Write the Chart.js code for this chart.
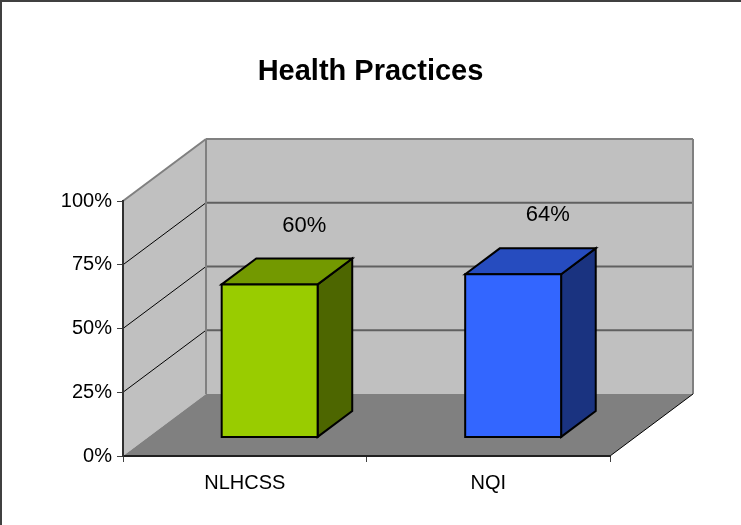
<!DOCTYPE html>
<html>
<head>
<meta charset="utf-8">
<title>Health Practices</title>
<script src="https://cdn.jsdelivr.net/npm/chart.js@4/dist/chart.umd.min.js"></script>
<style>
  html, body { margin: 0; padding: 0; background: #ffffff; }
  #wrap { width: 741px; height: 525px; position: relative; }
</style>
</head>
<body>
<div id="wrap"><canvas id="chart" width="741" height="525"></canvas></div>
<script>
// Data
const categories = ['NLHCSS', 'NQI'];
const practiceShares = [60, 64];
const yTickValues = [0, 25, 50, 75, 100];

// Bar shading: front, top and side faces
const frontColors = ['#99CC00', '#3366FF'];
const topColors = ['#739900', '#264CBF'];
const sideColors = ['#4D6600', '#1A3380'];

const FONT = "'Liberation Sans', Arial, Helvetica, sans-serif";

// Oblique projection: offset from the front plane to the back wall
const depth = { x: 83, y: -62 };
const barFrontOffset = 0.30;  // share of the depth in front of the bars
const barDepthShare = 0.417;  // share of the depth the bars occupy

function poly(ctx, pts, fill, stroke, lw) {
  ctx.beginPath();
  ctx.moveTo(pts[0][0], pts[0][1]);
  for (let i = 1; i < pts.length; i++) ctx.lineTo(pts[i][0], pts[i][1]);
  ctx.closePath();
  if (fill) { ctx.fillStyle = fill; ctx.fill(); }
  if (stroke) { ctx.strokeStyle = stroke; ctx.lineWidth = lw; ctx.stroke(); }
}

function seg(ctx, x1, y1, x2, y2, color, lw) {
  ctx.beginPath();
  ctx.moveTo(x1, y1);
  ctx.lineTo(x2, y2);
  ctx.strokeStyle = color;
  ctx.lineWidth = lw;
  ctx.stroke();
}

// Back wall, side wall, floor and frame, drawn beneath the axes
const wallsPlugin = {
  id: 'walls3d',
  beforeDraw(chart) {
    const { ctx, chartArea: a } = chart;
    const yScale = chart.scales.y;
    const bl = a.left + depth.x, br = a.right + depth.x;
    const bt = a.top + depth.y, bb = a.bottom + depth.y;
    ctx.save();
    ctx.fillStyle = '#ffffff';
    ctx.fillRect(0, 0, chart.width, chart.height);

    // back wall
    ctx.fillStyle = '#C0C0C0';
    ctx.fillRect(bl, bt, br - bl, bb - bt);
    // side wall
    poly(ctx, [[a.left, a.top], [bl, bt], [bl, bb], [a.left, a.bottom]], '#C0C0C0');
    // floor
    poly(ctx, [[a.left, a.bottom], [a.right, a.bottom], [br, bb], [bl, bb]], '#808080');

    const maxV = yTickValues[yTickValues.length - 1];
    yTickValues.forEach(v => {
      if (v === 0) return;
      const py = yScale.getPixelForValue(v);
      if (v === maxV) {
        seg(ctx, bl, py + depth.y, br, py + depth.y, '#808080', 2);
        seg(ctx, a.left, py, bl, py + depth.y, '#808080', 2);
      } else {
        seg(ctx, bl, py + depth.y, br, py + depth.y, '#606060', 2);
        seg(ctx, a.left, py, bl, py + depth.y, '#000000', 1);
      }
    });
    // wall edges
    seg(ctx, bl, bt, bl, bb, '#808080', 2);
    seg(ctx, br, bt, br, bb, '#808080', 2);
    // floor right edge
    seg(ctx, a.right, a.bottom, br, bb, '#000000', 1);

    // chart frame
    seg(ctx, 0, 1, chart.width, 1, '#404040', 2);
    seg(ctx, 1, 0, 1, chart.height, '#404040', 2);
    ctx.restore();
  }
};

// Extruded bars and value labels, placed from the bar elements
const bars3dPlugin = {
  id: 'bars3d',
  afterDatasetsDraw(chart) {
    const { ctx } = chart;
    const meta = chart.getDatasetMeta(0);
    const values = chart.data.datasets[0].data;
    const ox = depth.x * barFrontOffset, oy = depth.y * barFrontOffset;
    const dx = depth.x * barDepthShare, dy = depth.y * barDepthShare;
    ctx.save();
    ctx.lineJoin = 'miter';
    meta.data.forEach((bar, i) => {
      const p = bar.getProps(['x', 'y', 'base', 'width'], true);
      const l = p.x - p.width / 2 + ox, r = p.x + p.width / 2 + ox;
      const t = p.y + oy, b = p.base + oy;
      poly(ctx, [[r, t], [r + dx, t + dy], [r + dx, b + dy], [r, b]], sideColors[i], '#000', 2);
      poly(ctx, [[l, t], [l + dx, t + dy], [r + dx, t + dy], [r, t]], topColors[i], '#000', 2);
      poly(ctx, [[l, t], [r, t], [r, b], [l, b]], frontColors[i], '#000', 2);

      ctx.fillStyle = '#000';
      ctx.font = '22px ' + FONT;
      ctx.textAlign = 'center';
      ctx.textBaseline = 'middle';
      ctx.fillText(values[i] + '%', p.x + ox + dx, t + dy - 33);
    });
    ctx.restore();
  }
};

new Chart(document.getElementById('chart'), {
  type: 'bar',
  data: {
    labels: categories,
    datasets: [{
      data: practiceShares,
      backgroundColor: 'rgba(0,0,0,0)',
      borderWidth: 0,
      barPercentage: 0.394,
      categoryPercentage: 1.0,
      yAxisID: 'y'
    }]
  },
  options: {
    responsive: false,
    animation: false,
    devicePixelRatio: 1,
    events: [],
    layout: { padding: 0 },
    plugins: {
      legend: { display: false },
      tooltip: { enabled: false },
      title: {
        display: true,
        text: 'Health Practices',
        color: '#000',
        font: { family: FONT, size: 29, weight: 'bold' },
        padding: { top: 55, bottom: 111.2 }
      }
    },
    scales: {
      x: {
        offset: true,
        grid: { display: true, drawOnChartArea: false, drawTicks: true, tickLength: 6, color: '#404040', offset: true },
        border: { display: true, color: '#202020', width: 2 },
        ticks: { color: '#000', font: { family: FONT, size: 20 }, padding: 9, maxRotation: 0 },
        afterFit(scale) { scale.height = 69; }
      },
      y: {
        min: yTickValues[0],
        max: yTickValues[yTickValues.length - 1],
        afterBuildTicks(scale) { scale.ticks = yTickValues.map(v => ({ value: v })); },
        grid: { display: true, drawOnChartArea: false, drawTicks: true, tickLength: 6, color: '#404040' },
        border: { display: true, color: '#303030', width: 2 },
        ticks: { color: '#000', font: { family: FONT, size: 20 }, padding: 5, callback: v => v + '%' },
        afterFit(scale) { scale.width = 123; }
      },
      // blank right-hand axis that reserves room for the receding depth
      depthRoom: {
        type: 'linear',
        position: 'right',
        min: 0,
        max: 100,
        grid: { display: false, drawTicks: false },
        border: { display: false },
        ticks: { display: false },
        afterFit(scale) { scale.width = 131; }
      }
    }
  },
  plugins: [wallsPlugin, bars3dPlugin]
});
</script>
</body>
</html>
